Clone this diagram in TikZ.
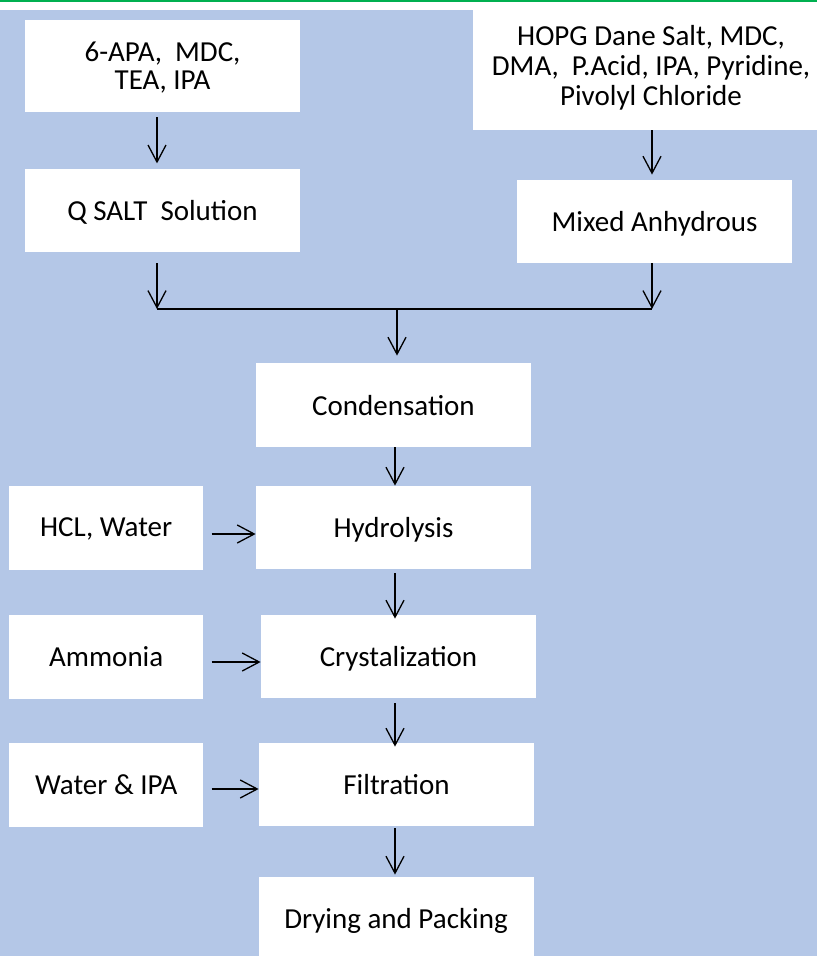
\documentclass[tikz,border=0pt]{standalone}
\usepackage{fontspec}
\setmainfont{Carlito}
\usetikzlibrary{positioning,arrows.meta}
\definecolor{paleblue}{RGB}{180,199,231}
\definecolor{headgreen}{RGB}{0,176,80}
\tikzset{stepbox/.style={rectangle, fill=white, inner sep=0pt,
  minimum width=137.5pt, minimum height=41.5pt, align=center, text depth=0pt}}
\tikzset{inbox/.style={rectangle, fill=white, inner sep=0pt,
  minimum width=97pt, minimum height=42pt, align=center, text depth=0pt}}
\tikzset{flow/.style={-{Straight Barb[length=8.5pt,width=9pt]}, line width=0.65pt}}

\begin{document}
\begin{tikzpicture}[x=0.5pt,y=-0.5pt,font=\fontsize{14.5}{15}\selectfont]
  \useasboundingbox (0,0) rectangle (817,956);
  \fill[paleblue] (0,10) rectangle (817,956);
  \draw[headgreen, line width=1pt] (0,1) -- (817,1);

  % feed side
  \node[stepbox, minimum height=46pt, text depth=-2pt] (apa) at (162.5,66) {6-APA,~ MDC,\\[-1pt]TEA, IPA};
  \node[stepbox, below=28pt of apa] (qsalt) {Q SALT~ Solution};
  \node[stepbox, minimum width=178pt, minimum height=62pt, text depth=3pt] (hopg) at (651,68)
    {HOPG Dane Salt, MDC,\\DMA,~ P.Acid, IPA, Pyridine,\\Pivolyl Chloride};
  \node[stepbox] (mixed) at (654.5,221.5) {Mixed Anhydrous};

  % main line
  \node[stepbox, minimum height=42pt] (cond) at (393.5,405) {Condensation};
  \node[stepbox] (hyd) at (393.5,527.5) {Hydrolysis};
  \node[stepbox] (cry) at (398.5,656.5) {Crystalization};
  \node[stepbox] (filt) at (396.5,784.5) {Filtration};
  \node[stepbox] (dry) at (396,918.5) {Drying and Packing};

  \node[inbox, left=26pt of hyd] (hcl) {HCL, Water};
  \node[inbox, left=28.5pt of cry] (amm) {Ammonia};
  \node[inbox, left=27.5pt of filt] (wat) {Water \& IPA};

  \coordinate (lend) at (157,309);
  \coordinate (rend) at (652,309);
  \coordinate (join) at (397,309);

  \draw[flow, shorten <=2.5pt, shorten >=2.5pt] ([xshift=-2.75pt]apa.south) -- ([xshift=-2.75pt]qsalt.north);
  \draw[flow, shorten <=5.5pt] (qsalt.south -| lend) -- (lend);
  \draw[flow, shorten >=2.5pt] (hopg.south -| rend) -- (mixed.north -| rend);
  \draw[flow] (mixed.south -| rend) -- (rend);
  \draw[line width=0.65pt] (lend) -- (rend);
  \draw[flow, shorten >=3.5pt] (join) -- (join |- cond.north);

  \draw[flow] ([xshift=0.75pt]cond.south) -- ([xshift=0.75pt]hyd.north);
  \draw[flow, shorten <=2pt, shorten >=-2pt] ([xshift=0.75pt]hyd.south) -- ([xshift=0.75pt]hyd.south |- cry.north);
  \draw[flow, shorten <=2.5pt, shorten >=-2pt] ([xshift=-1.75pt]cry.south) -- ([xshift=-1.75pt]cry.south |- filt.north);
  \draw[flow, shorten <=1pt, shorten >=1pt] ([xshift=-0.75pt]filt.south) -- ([xshift=-0.75pt]filt.south |- dry.north);

  \draw[flow, shorten <=4pt] ([yshift=-3.25pt]hcl.east) -- ([yshift=-3.25pt]hcl.east -| hyd.west);
  \draw[flow, shorten <=4pt] ([yshift=-2.75pt]amm.east) -- ([yshift=-2.75pt]amm.east -| cry.west);
  \draw[flow, shorten <=4pt] ([yshift=-2.25pt]wat.east) -- ([yshift=-2.25pt]wat.east -| filt.west);
\end{tikzpicture}
\end{document}
